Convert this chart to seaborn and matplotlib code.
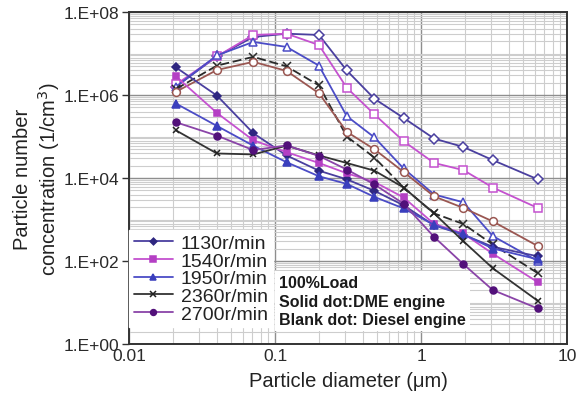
import numpy as np
import pandas as pd
import matplotlib
matplotlib.use("Agg")
import matplotlib.pyplot as plt
from matplotlib.ticker import FixedLocator, FuncFormatter, NullFormatter
from matplotlib.lines import Line2D
import seaborn as sns

# Particle size bins (µm)
d_um = [0.021, 0.04, 0.071, 0.12, 0.2, 0.31, 0.48, 0.76, 1.23, 1.95, 3.1, 6.3]

# DME engine (solid markers), particles per cm3
dme_1130 = [4.6e6, 9.7e5, 1.2e5, 3.5e4, 1.5e4, 9.3e3, 4.9e3, 2.2e3, 7.2e2, 4.3e2, 2.2e2, 1.3e2]
dme_1540 = [2.8e6, 3.7e5, 8.1e4, 4.2e4, 2.3e4, 1.3e4, 8.0e3, 3.4e3, 7.8e2, 4.6e2, 1.5e2, 3.1e1]
dme_1950 = [6.2e5, 1.8e5, 6.0e4, 2.4e4, 1.1e4, 7.2e3, 3.5e3, 1.85e3, 7.4e2, 4.4e2, 2.0e2, 1.1e2]
dme_2360 = [1.4e5, 3.9e4, 3.7e4, 6.0e4, 3.5e4, 2.3e4, 1.5e4, 5.9e3, 1.4e3, 3.0e2, 6.7e1, 1.1e1]
dme_2700 = [2.2e5, 1.05e5, 4.7e4, 6.1e4, 3.4e4, 1.6e4, 7.0e3, 2.4e3, 3.8e2, 8.4e1, 2.0e1, 7.2]

# Diesel engine (blank markers), particles per cm3
diesel_1130 = [1.6e6, 8.5e6, 2.5e7, 3.0e7, 2.8e7, 3.9e6, 8.1e5, 2.8e5, 8.9e4, 5.6e4, 2.7e4, 9.3e3]
diesel_1540 = [1.8e6, 8.5e6, 2.8e7, 3.0e7, 1.6e7, 1.5e6, 3.4e5, 7.7e4, 2.3e4, 1.55e4, 5.9e3, 1.9e3]
diesel_1950 = [1.6e6, 9.0e6, 1.9e7, 1.44e7, 5.1e6, 3.1e5, 9.5e4, 1.7e4, 4.0e3, 2.6e3, 4.0e2, 1.0e2]
diesel_2360 = [1.4e6, 5.1e6, 8.3e6, 4.9e6, 1.7e6, 1.0e5, 3.1e4, 5.9e3, 1.4e3, 7.8e2, 2.5e2, 5.1e1]
diesel_2700 = [1.2e6, 4.0e6, 6.3e6, 3.8e6, 1.1e6, 1.3e5, 4.9e4, 1.4e4, 3.6e3, 1.9e3, 9.0e2, 2.3e2]

speeds = ["1130r/min", "1540r/min", "1950r/min", "2360r/min", "2700r/min"]
y_ticks = [1e0, 1e2, 1e4, 1e6, 1e8]
y_tick_labels = ["1.E+00", "1.E+02", "1.E+04", "1.E+06", "1.E+08"]
x_ticks = [0.01, 0.1, 1, 10]
x_tick_labels = ["0.01", "0.1", "1", "10"]
notes = ["100%Load", "Solid dot:DME engine", "Blank dot: Diesel engine"]

sns.set_style("white")
plt.rcParams["font.family"] = ["Liberation Sans", "DejaVu Sans"]

# line colour, marker, marker size, marker fill for the solid version
styles = {
    "1130r/min": dict(color="#4a3f9f", marker="D", ms=4.2, fill="#2e2680"),
    "1540r/min": dict(color="#c451cf", marker="s", ms=4.6, fill="#b43fc4"),
    "1950r/min": dict(color="#4b4cc6", marker="^", ms=5.2, fill="#3a3fbd"),
    "2360r/min": dict(color="#333333", marker="x", ms=5.0, fill="#222222"),
    "2700r/min": dict(color="#8a44a8", marker="o", ms=5.0, fill="#52107a"),
}
diesel_colors = {
    "1130r/min": "#4a3f9f",
    "1540r/min": "#c451cf",
    "1950r/min": "#4b4cc6",
    "2360r/min": "#2a2a2a",
    "2700r/min": "#9a5752",
}

dme = dict(zip(speeds, [dme_1130, dme_1540, dme_1950, dme_2360, dme_2700]))
diesel = dict(zip(speeds, [diesel_1130, diesel_1540, diesel_1950, diesel_2360, diesel_2700]))

rows = []
for sp in speeds:
    for d, v in zip(d_um, dme[sp]):
        rows.append(dict(engine="DME", speed=sp, d=d, n=v))
    for d, v in zip(d_um, diesel[sp]):
        rows.append(dict(engine="Diesel", speed=sp, d=d, n=v))
df = pd.DataFrame(rows)

fig = plt.figure(figsize=(5.8, 4.02), dpi=100)
ax = fig.add_axes([129 / 580, 1 - 345 / 402, 438 / 580, 332 / 402])
ax.set_xscale("log")
ax.set_yscale("log")

# Diesel engine curves: blank markers
for sp in speeds:
    st = styles[sp]
    sub = df[(df.engine == "Diesel") & (df.speed == sp)]
    c = diesel_colors[sp]
    sns.lineplot(data=sub, x="d", y="n", ax=ax, color=c, lw=1.3,
                 linestyle=(0, (5, 2)) if sp == "2360r/min" else "-",
                 marker=st["marker"], markersize=st["ms"] + 0.6,
                 markerfacecolor="white", markeredgecolor=c, markeredgewidth=1.1,
                 estimator=None, sort=False, legend=False, zorder=3)

# DME engine curves: solid markers
handles = []
for sp in speeds:
    st = styles[sp]
    sub = df[(df.engine == "DME") & (df.speed == sp)]
    sns.lineplot(data=sub, x="d", y="n", ax=ax, color=st["color"], lw=1.3,
                 marker=st["marker"], markersize=st["ms"],
                 markerfacecolor=st["fill"], markeredgecolor=st["fill"],
                 markeredgewidth=1.1, estimator=None, sort=False, legend=False, zorder=4)
    handles.append(Line2D([], [], color=st["color"], lw=1.3, marker=st["marker"],
                          markersize=st["ms"] - 0.8, markerfacecolor=st["fill"],
                          markeredgecolor=st["fill"], markeredgewidth=1.1))

ax.set_xlim(0.01, 10)
ax.set_ylim(1, 1e8)

# ticks and grid
ax.xaxis.set_major_locator(FixedLocator(x_ticks))
ax.xaxis.set_major_formatter(FuncFormatter(lambda v, p: x_tick_labels[x_ticks.index(v)] if v in x_ticks else ""))
x_minor = [k * 10.0 ** e for e in range(-2, 1) for k in range(2, 10)]
ax.xaxis.set_minor_locator(FixedLocator(x_minor))
ax.xaxis.set_minor_formatter(NullFormatter())

ax.yaxis.set_major_locator(FixedLocator(y_ticks))
ax.set_yticklabels(y_tick_labels)
y_minor = [k * 10.0 ** e for e in range(0, 8) for k in range(1, 10)
           if not (k == 1 and e % 2 == 0)]
ax.yaxis.set_minor_locator(FixedLocator(y_minor))
ax.yaxis.set_minor_formatter(NullFormatter())

ax.grid(which="major", color="#8e8e8e", lw=1.0, zorder=0)
ax.grid(which="minor", color="#cdcdcd", lw=0.8, zorder=0)
ax.set_axisbelow(True)

ax.tick_params(axis="y", which="major", direction="out", length=5, width=1.0,
               labelsize=12.5, pad=2, color="#333333", left=True,
               labelcolor="#2a2a2a")
ax.tick_params(axis="x", which="major", direction="out", length=0,
               labelsize=12.5, pad=3, labelcolor="#2a2a2a")
ax.tick_params(which="minor", length=0)

for s in ax.spines.values():
    s.set_color("#333333")
    s.set_linewidth(1.4)
    s.set_zorder(6)

ax.set_xlabel("Particle diameter (\u03bcm)", fontsize=14.5, labelpad=6, color="#222222")
ax.set_ylabel("Particle number\nconcentration (1/cm$^3$)", fontsize=14.5,
              labelpad=1, color="#222222", linespacing=1.2)

leg = ax.legend(handles, speeds, loc="lower left", bbox_to_anchor=(0.0, 0.05),
                fontsize=14, frameon=True, fancybox=False, framealpha=1.0,
                edgecolor="white", facecolor="white", handlelength=2.0,
                handletextpad=0.4, labelspacing=0.0, borderpad=0.25,
                borderaxespad=0.0)
leg.set_zorder(7)
for t in leg.get_texts():
    t.set_color("#222222")

ax.text(0.342, 0.05, "\n".join(notes), transform=ax.transAxes, fontsize=11.5,
        fontweight="bold", ha="left", va="bottom", linespacing=1.3, color="#1a1a1a",
        zorder=7, bbox=dict(boxstyle="square,pad=0.25", facecolor="white",
                            edgecolor="none"))

fig.savefig("out.png", dpi=100)
